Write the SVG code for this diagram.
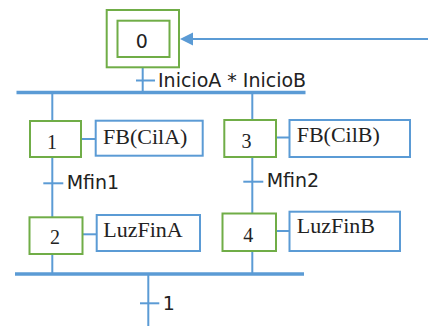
<svg xmlns="http://www.w3.org/2000/svg" width="428" height="326" viewBox="0 0 428 326">
<style>
.step{fill:#fff;stroke:#70AD47;stroke-width:2}
.act{fill:#fff;stroke:#5B9BD5;stroke-width:2}
.ln{stroke:#5B9BD5;stroke-width:2;fill:none}
.bar{stroke:#5B9BD5;stroke-width:3.5;fill:none}
.sans{font-family:"DejaVu Sans",Verdana,sans-serif;font-size:19px;fill:#222}
.num{font-family:"Liberation Serif","Times New Roman",serif;font-size:20px;fill:#222;text-anchor:middle}
.ser{font-family:"Liberation Serif","Times New Roman",serif;font-size:22px;fill:#222}
</style>
<rect width="428" height="326" fill="#fff"/>
<g id="connectors">
<line class="ln" x1="428" y1="39" x2="192" y2="39"/>
<polygon points="180,39 193,32.5 193,45.5" fill="#5B9BD5"/>
<line class="ln" x1="142.7" y1="67.5" x2="142.7" y2="92"/>
<line class="ln" x1="136" y1="80.5" x2="155" y2="80.5"/>
<line class="bar" x1="16.5" y1="92.5" x2="305.5" y2="92.5"/>
<line class="ln" x1="52.3" y1="92" x2="52.3" y2="121"/>
<line class="ln" x1="252.3" y1="92" x2="252.3" y2="120"/>
<line class="ln" x1="81" y1="139" x2="95.7" y2="139"/>
<line class="ln" x1="276" y1="137.5" x2="289.5" y2="137.5"/>
<line class="ln" x1="52.3" y1="157" x2="52.3" y2="217"/>
<line class="ln" x1="43.3" y1="183.3" x2="63.3" y2="183.3"/>
<line class="ln" x1="252.3" y1="157" x2="252.3" y2="213.5"/>
<line class="ln" x1="243.3" y1="181.7" x2="263.3" y2="181.7"/>
<line class="ln" x1="82.5" y1="234.3" x2="96.7" y2="234.3"/>
<line class="ln" x1="276" y1="231" x2="289.5" y2="231"/>
<line class="ln" x1="52.3" y1="254" x2="52.3" y2="274"/>
<line class="ln" x1="252.3" y1="251" x2="252.3" y2="274"/>
<line class="bar" x1="15" y1="274" x2="304" y2="274"/>
<line class="ln" x1="148.3" y1="274" x2="148.3" y2="326"/>
<line class="ln" x1="140" y1="303.3" x2="159.3" y2="303.3"/>
</g>
<g id="step0">
<rect class="step" x="106.7" y="10" width="72.3" height="57.3"/>
<rect class="step" x="117.5" y="20.7" width="52" height="36.3"/>
<text class="sans" x="141.7" y="48.3" text-anchor="middle" font-size="17">0</text>
</g>
<g id="t0"><text class="sans" x="158" y="87.3">InicioA * InicioB</text></g>
<g id="step1">
<rect class="step" x="30" y="121" width="51" height="36"/>
<text class="num" x="52" y="148.5">1</text>
</g>
<g id="action1">
<rect class="act" x="95.7" y="120.7" width="107" height="35"/>
<text class="ser" x="103" y="143.5">FB(CilA)</text>
</g>
<g id="step3">
<rect class="step" x="224.3" y="120" width="51.7" height="37"/>
<text class="num" x="246.5" y="147.7">3</text>
</g>
<g id="action3">
<rect class="act" x="289.5" y="120" width="120.5" height="37"/>
<text class="ser" x="296.7" y="142.3">FB(CilB)</text>
</g>
<g id="t1"><text class="sans" x="66.7" y="188.8">Mfin1</text></g>
<g id="t2"><text class="sans" x="266.7" y="187.2">Mfin2</text></g>
<g id="step2">
<rect class="step" x="29.5" y="217.3" width="53" height="36.7"/>
<text class="num" x="55" y="244.3">2</text>
</g>
<g id="action2">
<rect class="act" x="96.7" y="215" width="103.3" height="36"/>
<text class="ser" x="103.3" y="236.7">LuzFinA</text>
</g>
<g id="step4">
<rect class="step" x="222.5" y="213.5" width="53.5" height="37.5"/>
<text class="num" x="248.3" y="241.7">4</text>
</g>
<g id="action4">
<rect class="act" x="289.5" y="211.7" width="110.5" height="39.3"/>
<text class="ser" x="296.7" y="233.3">LuzFinB</text>
</g>
<g id="t3"><text class="sans" x="162.7" y="310">1</text></g>
</svg>
